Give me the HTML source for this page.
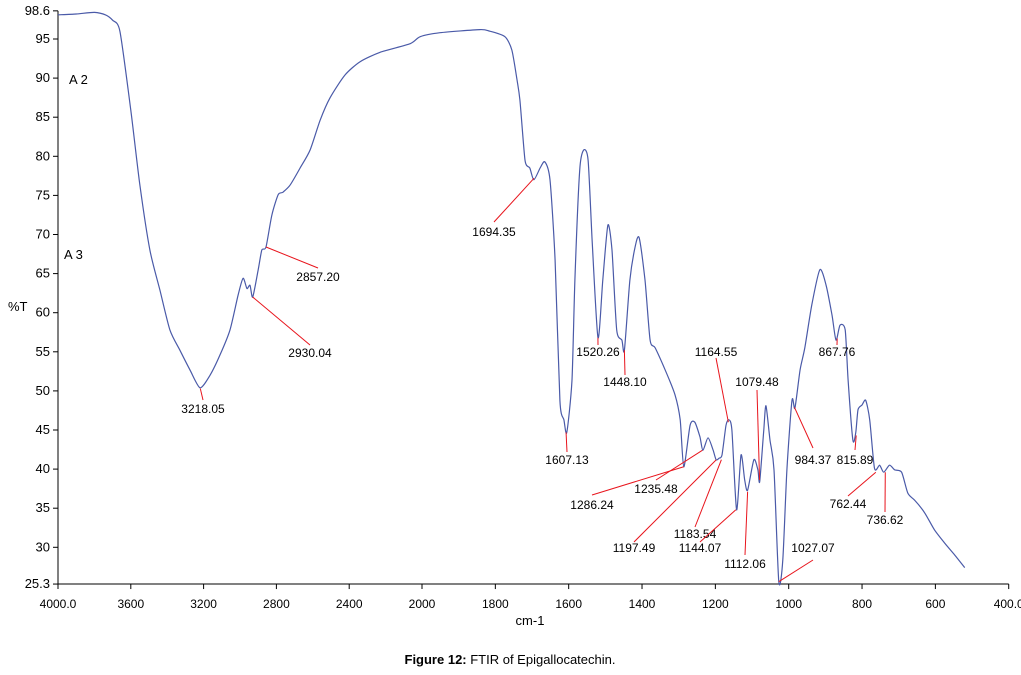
<!DOCTYPE html>
<html><head><meta charset="utf-8"><style>
body{margin:0;background:#fff;width:1021px;height:670px;overflow:hidden}
svg text{font-family:"Liberation Sans",Arial,sans-serif}
</style></head><body>
<svg id="c" width="1021" height="670" xmlns="http://www.w3.org/2000/svg"></svg>
<script>
const wavenumbers=[4000,3900,3800,3740,3700,3660,3600,3550,3495,3440,3385,3330,3275,3220,3165,3110,3055,3010,2983,2962,2945,2930,2900,2880,2857,2825,2790,2765,2725,2670,2615,2560,2505,2423,2340,2230,2065,2010,1951,1842,1815,1774,1755,1741,1733,1719,1706,1695,1678,1665,1651,1637,1624,1613,1605,1591,1583,1570,1559,1547,1536,1520,1507,1493,1482,1469,1455,1448,1433,1419,1408,1392,1378,1364,1337,1310,1296,1286,1269,1256,1242,1234,1220,1206,1198,1190,1182,1171,1163,1155,1142,1130,1120,1112,1095,1084,1079,1068,1062,1051,1040,1027,1016,1005,991,983,969,956,937,915,898,882,871,860,846,838,825,817,811,800,790,779,766,752,741,725,711,692,675,656,629,602,574,547,520];
const transmittance=[98.1,98.2,98.4,98.1,97.4,96,85.9,76.3,68.0,62.9,57.8,55.2,52.7,50.4,52.0,54.6,57.8,62.3,64.4,63.1,63.5,62.0,65.5,68.0,68.4,72.5,75.1,75.4,76.3,78.5,80.8,84.6,87.5,90.4,92.1,93.3,94.4,95.3,95.8,96.2,96.0,95.3,93.6,89.8,87.2,79.5,78.5,77.0,78.5,79.3,77.0,66.7,48.8,46.3,44.7,51.4,64.2,78.2,80.8,79.5,69.3,56.8,64.2,71.2,68.0,57.8,56.5,55.2,64.2,68.4,69.6,64.2,56.5,55.5,52.7,49.5,46.3,40.3,45.6,46.0,44.1,42.4,44.0,42.4,41.2,41.4,41.8,45.6,46.3,45.0,34.8,41.8,38.6,37.3,41.2,39.9,38.4,45.0,48.1,43.7,39.9,25.6,28.4,39.9,48.8,47.8,52.7,55.5,61.0,65.5,63.5,59.7,56.5,58.4,57.8,51.4,43.7,44.7,47.6,48.2,48.8,46.3,40.1,40.5,39.6,40.5,39.9,39.6,36.9,36.0,34.4,32.2,30.5,29.0,27.4];
const peakLabels=["1694.35","2857.20","2930.04","3218.05","1607.13","1520.26","1448.10","1164.55","1079.48","867.76","984.37","815.89","1286.24","1235.48","1197.49","1183.54","1144.07","1112.06","1027.07","762.44","736.62"];
const peakWn=[1694.35,2857.2,2930.04,3218.05,1607.13,1520.26,1448.1,1164.55,1079.48,867.76,984.37,815.89,1286.24,1235.48,1197.49,1183.54,1144.07,1112.06,1027.07,762.44,736.62];
const peakT=[77.2,68.4,62.0,50.3,44.7,56.8,55.2,46.0,38.6,56.7,47.9,44.3,40.3,42.4,41.2,41.2,34.8,37.1,25.6,39.6,39.6];
const labelPos=[[494,222,232],[318,268,277],[310,345,353],[203,400,409],[567,452,460],[598,345,352],[625,375,382],[716,358,352],[757,390,382],[837,345,352],[813,448,460],[855,450,460],[592,495,505],[656,480,489],[634,542,548],[695,527,534],[700,542,548],[745,555,564],[813,560,548],[848,496,504],[885,512,520]];
const yTicks=[30,35,40,45,50,55,60,65,70,75,80,85,90,95];
const xTicks=[4000,3600,3200,2800,2400,2000,1800,1600,1400,1200,1000,800,600,400];
const xTickLabels=["4000.0","3600","3200","2800","2400","2000","1800","1600","1400","1200","1000","800","600","400.0"];

const NS="http://www.w3.org/2000/svg",svg=document.getElementById('c');
function X(w){return w>=2000?58+(4000-w)*0.182:422+(2000-w)*0.3667;}
function Y(t){return 39+(95-t)*7.82;}
function mk(tag,a,p){const e=document.createElementNS(NS,tag);for(const k in a)e.setAttribute(k,a[k]);(p||svg).appendChild(e);return e;}
const serif='"Liberation Serif","Times New Roman",serif';
let ax=mk('line',{x1:58,y1:Y(98.6),x2:58,y2:Y(25.3),stroke:'#000'});


let bx=mk('line',{x1:58,y1:Y(25.3),x2:X(400),y2:Y(25.3),stroke:'#000'});


const yAll=[25.3].concat(yTicks,[98.6]);
yAll.forEach(v=>{
 mk('line',{x1:53,y1:Y(v),x2:58,y2:Y(v),stroke:'#000'});
 const t=mk('text',{x:50,y:Y(v)+4,'text-anchor':'end','font-size':13,'font-family':serif});
 t.textContent=(v%1?v.toFixed(1):v);
 
 
});
xTicks.forEach((v,i)=>{
 mk('line',{x1:X(v),y1:Y(25.3),x2:X(v),y2:Y(25.3)+5,stroke:'#000'});
 const t=mk('text',{x:X(v),y:608,'text-anchor':'middle','font-size':12});
 t.textContent=xTickLabels[i];
 
 
});
function txt(s,x,y,name,fs,ff,anchor){const t=mk('text',{x:x,y:y,'font-size':fs,'font-family':ff,'text-anchor':anchor||'start'});t.textContent=s;
 
 return t;}
txt('%T',8,311,'y-axis-title',13,serif);
txt('cm-1',530,625,'x-axis-title',13,serif,'middle');
txt('A 2',69,84,'annotation-a2',13,serif);
txt('A 3',64,259,'annotation-a3',13,serif);
// smoothed series (Catmull-Rom, low tension)
const pts=wavenumbers.map((w,i)=>[X(w),Y(transmittance[i])]);
let d='M'+pts[0][0].toFixed(1)+' '+pts[0][1].toFixed(1);
const k=0.12;
for(let i=0;i<pts.length-1;i++){
 const p0=pts[Math.max(0,i-1)],p1=pts[i],p2=pts[i+1],p3=pts[Math.min(pts.length-1,i+2)];
 const c1=[p1[0]+(p2[0]-p0[0])*k,p1[1]+(p2[1]-p0[1])*k];
 const c2=[p2[0]-(p3[0]-p1[0])*k,p2[1]-(p3[1]-p1[1])*k];
 d+=' C'+c1[0].toFixed(1)+' '+c1[1].toFixed(1)+' '+c2[0].toFixed(1)+' '+c2[1].toFixed(1)+' '+p2[0].toFixed(1)+' '+p2[1].toFixed(1);
}
let p=mk('path',{d:d,fill:'none',stroke:'#4a5aa8','stroke-width':1.2});


peakLabels.forEach((s,i)=>{
 const ln=mk('line',{x1:X(peakWn[i]),y1:Y(peakT[i]),x2:labelPos[i][0],y2:labelPos[i][1],stroke:'#e8141c','stroke-width':1});
 
 
 const t=mk('text',{x:labelPos[i][0],y:labelPos[i][2]+4,'text-anchor':'middle','font-size':12});
 t.textContent=s;
 
 
});
const cap=mk('text',{x:510,y:664,'text-anchor':'middle','font-size':13});


const b=mk('tspan',{'font-weight':'bold'},cap);b.textContent='Figure 12:';
const r=mk('tspan',{},cap);r.textContent=' FTIR of Epigallocatechin.';
</script>
</body></html>
